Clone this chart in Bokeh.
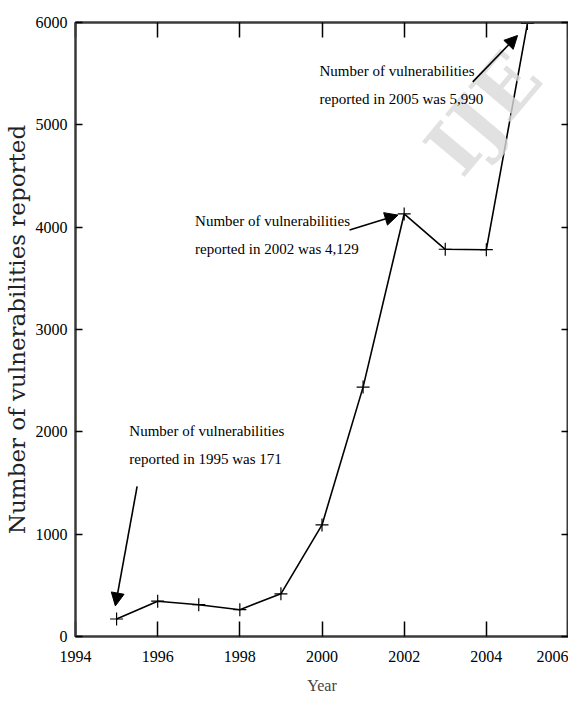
from bokeh.plotting import figure
from bokeh.models import (LinearAxis, FixedTicker, Range1d, Label, Arrow, NormalHead)
from bokeh.embed import file_html
from bokeh.resources import INLINE

# ---- data ----
years = [1995, 1996, 1997, 1998, 1999, 2000, 2001, 2002, 2003, 2004, 2005]
vulns = [171, 345, 311, 262, 417, 1090, 2437, 4129, 3784, 3780, 5990]

x_ticks = [1994, 1996, 1998, 2000, 2002, 2004, 2006]
y_ticks = [0, 1000, 2000, 3000, 4000, 5000, 6000]

note_texts = ["Number of vulnerabilities\nreported in 1995 was 171",
              "Number of vulnerabilities\nreported in 2002 was 4,129",
              "Number of vulnerabilities\nreported in 2005 was 5,990"]
note_x = [1995.31, 1996.91, 1999.94]
note_y = [2083, 4137, 5603]
arrow_x0 = [1995.5, 2000.67, 2003.67]
arrow_y0 = [1466, 3973, 5420]
arrow_x1 = [1994.97, 2001.85, 2004.76]
arrow_y1 = [299, 4118, 5873]

SERIF = "Liberation Serif"
AXC = "#3a3a3a"

p = figure(width=568, height=703, output_backend="svg", toolbar_location=None,
           x_range=Range1d(1994, 2006), y_range=Range1d(0, 6000),
           min_border_left=73, min_border_right=0, min_border_top=22,
           min_border_bottom=67, x_axis_label="Year",
           y_axis_label="Number of vulnerabilities reported")
p.grid.visible = False
p.outline_line_color = AXC
p.outline_line_width = 2
p.background_fill_color = "white"
p.border_fill_color = "white"

# bottom / left axes
xa = p.xaxis[0]
ya = p.yaxis[0]
xa.ticker = FixedTicker(ticks=x_ticks)
ya.ticker = FixedTicker(ticks=y_ticks)
for ax, tin in ((xa, 15), (ya, 7)):
    ax.major_tick_in = tin
    ax.major_tick_out = 0
    ax.minor_tick_line_color = None
    ax.axis_line_color = AXC
    ax.axis_line_width = 2
    ax.major_tick_line_color = "black"
    ax.major_tick_line_width = 1.5
    ax.major_label_text_font = SERIF
    ax.major_label_text_font_size = "16px"
    ax.major_label_text_color = "black"
xa.major_label_standoff = 14
ya.major_label_standoff = 8
xa.axis_label_text_font = SERIF
xa.axis_label_text_font_style = "normal"
xa.axis_label_text_font_size = "16px"
xa.axis_label_standoff = 12
ya.axis_label_text_font = "DejaVu Serif"
ya.axis_label_text_font_style = "normal"
ya.axis_label_text_font_size = "23px"
ya.axis_label_standoff = 3
ya.axis_label_text_color = "#222222"

# top / right axes: ticks only
top = LinearAxis(ticker=FixedTicker(ticks=x_ticks),
                 major_label_overrides={t: "" for t in x_ticks})
right = LinearAxis(ticker=FixedTicker(ticks=y_ticks),
                   major_label_overrides={t: "" for t in y_ticks})
for ax, tin in ((top, 15), (right, 7)):
    ax.major_tick_in = tin
    ax.major_tick_out = 0
    ax.minor_tick_line_color = None
    ax.major_label_standoff = 0
    ax.axis_line_color = AXC
    ax.axis_line_width = 2
    ax.major_tick_line_color = "black"
    ax.major_tick_line_width = 1.5
p.add_layout(top, "above")
p.add_layout(right, "right")

# faint watermark of the source page
p.add_layout(Label(x=2003.75, y=4350, text="IJE", angle=50, angle_units="deg",
                   text_font="DejaVu Serif", text_font_size="76px",
                   text_color="#d9d9d9", text_alpha=0.8, text_font_style="bold"))

# series
p.line(years, vulns, line_color="black", line_width=1.6)
p.scatter(years, vulns, marker="cross", size=13, line_color="black", line_width=1.2)

# annotations
for t, x, y in zip(note_texts, note_x, note_y):
    p.add_layout(Label(x=x, y=y, text=t, text_font=SERIF, text_font_size="15px",
                       text_baseline="top", text_align="left", text_line_height=1.75,
                       text_color="black"))
for xs, ys, xe, ye in zip(arrow_x0, arrow_y0, arrow_x1, arrow_y1):
    p.add_layout(Arrow(x_start=xs, y_start=ys, x_end=xe, y_end=ye, line_width=1.6,
                       line_color="black",
                       end=NormalHead(size=13, fill_color="black", line_color="black")))

open("out.html", "w").write(file_html(p, INLINE))
